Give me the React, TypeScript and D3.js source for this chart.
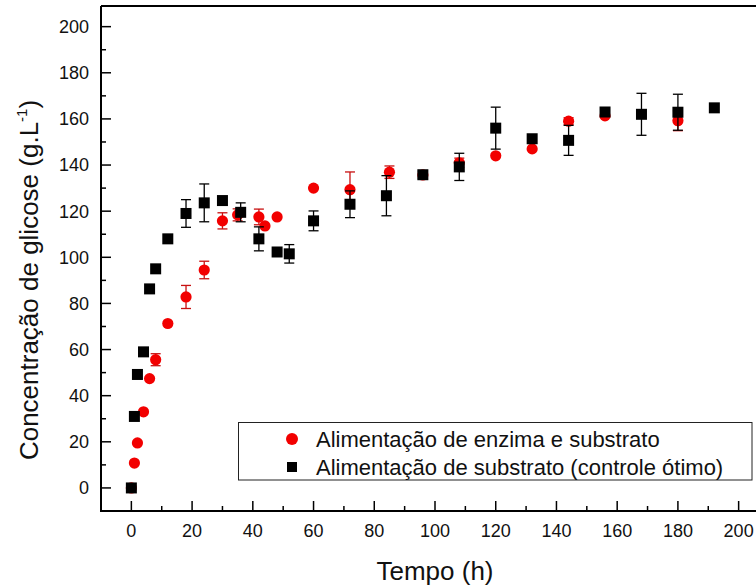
import React from "react";
import * as d3 from "d3";

const enzTime = [0, 1, 2, 4, 6, 8, 12, 18, 24, 30, 35, 42, 44, 48, 60, 72, 85, 96, 108, 120, 132, 144, 156, 180];
const enzValue = [0, 10.8, 19.5, 33, 47.4, 55.6, 71.3, 82.8, 94.5, 115.8, 118.4, 117.5, 113.6, 117.5, 130, 129.3, 136.9, 135.7, 141, 144, 147, 159, 161.3, 159.2];
const enzError = [0, 0, 0, 0, 0, 2.6, 0, 5, 3.8, 3.5, 2.6, 3.4, 0, 0, 0, 7.7, 2.7, 0, 2, 0, 0, 1.5, 0, 4.3];

const subTime = [0, 1, 2, 4, 6, 8, 12, 18, 24, 30, 36, 42, 48, 52, 60, 72, 84, 96, 108, 120, 132, 144, 156, 168, 180, 192];
const subValue = [0, 31, 49.2, 59, 86.3, 95, 108, 119, 123.6, 124.6, 119.5, 108, 102.3, 101.5, 115.8, 123, 126.7, 135.8, 139.2, 156, 151.4, 150.7, 163, 162, 162.9, 164.8];
const subError = [0, 0, 0, 0, 0, 0, 0, 6, 8.2, 0, 4.1, 5.2, 0, 4, 4.3, 5.8, 8.7, 1.5, 5.9, 9.1, 0, 6.5, 0, 9.1, 7.8, 0];

const xTicks = [0, 20, 40, 60, 80, 100, 120, 140, 160, 180, 200];
const yTicks = [0, 20, 40, 60, 80, 100, 120, 140, 160, 180, 200];

const legendLabels = ["Alimentação de enzima e substrato", "Alimentação de substrato (controle ótimo)"];

const FONT = "'Liberation Sans', Arial, sans-serif";

export default function App() {
  const W = 756, H = 587;
  const left = 101, right = 769, top = 5.9, bottom = 511;
  const x = d3.scaleLinear().domain([-10, 210]).range([left, right]);
  const y = d3.scaleLinear().domain([-10, 209]).range([bottom, top]);

  const xMinor = d3.range(-10, 211, 10).filter((v) => v % 20 !== 0);
  const yMinor = d3.range(-10, 210, 10).filter((v) => v % 20 !== 0);

  const red = "#f20000";
  const redBar = "#c81010";
  const cap = 5;
  const r = 5.6;
  const sq = 11;

  const errBars = (ts: number[], vs: number[], es: number[], color: string) =>
    ts.map((t, i) => {
      if (!es[i]) return null;
      const cx = x(t);
      const y1 = y(vs[i] + es[i]);
      const y2 = y(vs[i] - es[i]);
      return (
        <g key={i} stroke={color} strokeWidth={1.3}>
          <line x1={cx} x2={cx} y1={y1} y2={y2} />
          <line x1={cx - cap} x2={cx + cap} y1={y1} y2={y1} />
          <line x1={cx - cap} x2={cx + cap} y1={y2} y2={y2} />
        </g>
      );
    });

  return (
    <svg
      width={W}
      height={H}
      style={{ position: "absolute", left: 0, top: 0, display: "block", background: "#fff" }}
      fontFamily={FONT}
    >
      <rect x={0} y={0} width={W} height={H} fill="#fff" />
      {/* frame */}
      <line x1={left} x2={right} y1={top} y2={top} stroke="#000" strokeWidth={2} />
      <line x1={left} x2={left} y1={top} y2={bottom} stroke="#000" strokeWidth={2} />
      <line x1={left - 1} x2={right} y1={bottom} y2={bottom} stroke="#000" strokeWidth={2} />
      <line x1={right} x2={right} y1={top} y2={bottom} stroke="#000" strokeWidth={2} />

      {/* y ticks */}
      {yTicks.map((v) => (
        <g key={"yt" + v}>
          <line x1={left} x2={left + 10} y1={y(v)} y2={y(v)} stroke="#000" strokeWidth={1.5} />
          <text x={89} y={y(v) + 6.4} fontSize={18} textAnchor="end" fill="#111">
            {v}
          </text>
        </g>
      ))}
      {yMinor.map((v) => (
        <line key={"ym" + v} x1={left} x2={left + 5} y1={y(v)} y2={y(v)} stroke="#000" strokeWidth={1.5} />
      ))}

      {/* x ticks */}
      {xTicks.map((v) => (
        <g key={"xt" + v}>
          <line x1={x(v)} x2={x(v)} y1={bottom} y2={bottom - 10} stroke="#000" strokeWidth={1.5} />
          <text x={x(v)} y={537} fontSize={18} textAnchor="middle" fill="#111">
            {v}
          </text>
        </g>
      ))}
      {xMinor.map((v) => (
        <line key={"xm" + v} x1={x(v)} x2={x(v)} y1={bottom} y2={bottom - 5} stroke="#000" strokeWidth={1.5} />
      ))}

      {/* axis titles */}
      <text x={(left + right) / 2} y={580} fontSize={26} textAnchor="middle" fill="#111">
        Tempo (h)
      </text>
      <text transform="translate(38,280) rotate(-90)" fontSize={26} textAnchor="middle" fill="#111">
        Concentração de glicose (g.L
        <tspan fontSize={15} dy={-11}>-1</tspan>
        <tspan dy={11}>)</tspan>
      </text>

      {/* series 1: enzyme + substrate */}
      {errBars(enzTime, enzValue, enzError, redBar)}
      {enzTime.map((t, i) => (
        <circle key={"c" + i} cx={x(t)} cy={y(enzValue[i])} r={r} fill={red} />
      ))}

      {/* series 2: substrate */}
      {errBars(subTime, subValue, subError, "#000")}
      {subTime.map((t, i) => (
        <rect key={"s" + i} x={x(t) - sq / 2} y={y(subValue[i]) - sq / 2} width={sq} height={sq} fill="#000" />
      ))}

      {/* legend */}
      <rect x={238.5} y={422.5} width={513.5} height={57.5} fill="#fff" stroke="#222" strokeWidth={1} />
      <circle cx={292} cy={439} r={6} fill={red} />
      <text x={316} y={446.5} fontSize={22} fill="#111">
        {legendLabels[0]}
      </text>
      <rect x={287} y={462} width={10} height={10} fill="#000" />
      <text x={316} y={474.5} fontSize={22} fill="#111">
        {legendLabels[1]}
      </text>
    </svg>
  );
}
